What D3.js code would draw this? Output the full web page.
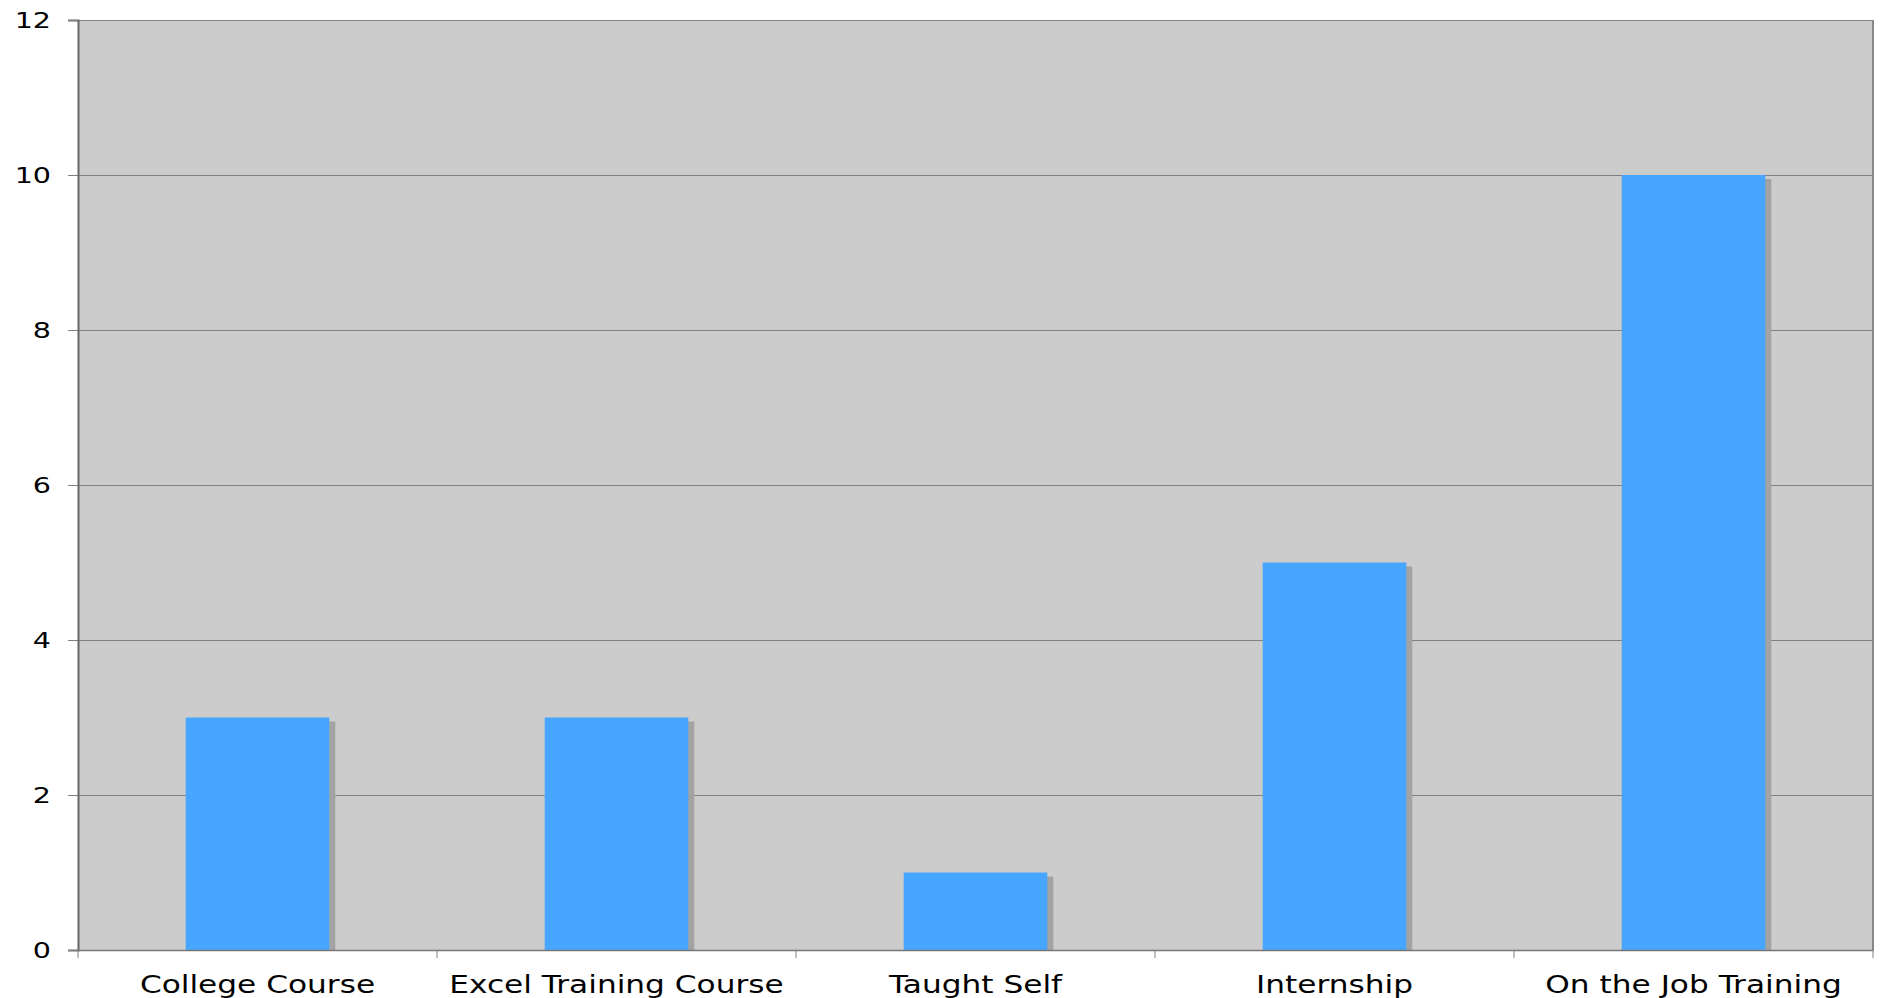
<!DOCTYPE html>
<html>
<head>
<meta charset="utf-8">
<script src="https://cdn.jsdelivr.net/npm/d3@7"></script>
<style>
  body { margin: 0; background: white; }
  text { font-family: "DejaVu Sans", sans-serif; fill: black; }
</style>
</head>
<body>
<svg width="1881" height="998"></svg>
<script>
// chart data
var categories = ["College Course", "Excel Training Course", "Taught Self", "Internship", "On the Job Training"];
var counts = [3, 3, 1, 5, 10];
var yTicks = [0, 2, 4, 6, 8, 10, 12];

var svg = d3.select("svg");
var margin = {top: 20, right: 8, bottom: 48, left: 78};
var W = 1881, H = 998;
var stretch = 1.3; // labels in the original look horizontally stretched

var x = d3.scaleBand().domain(categories).range([margin.left, W - margin.right]).paddingInner(0).paddingOuter(0);
var y = d3.scaleLinear().domain([0, 12]).range([H - margin.bottom, margin.top]);
var barW = x.bandwidth() * 0.4;

// plot background
svg.append("rect")
  .attr("x", margin.left).attr("y", margin.top)
  .attr("width", W - margin.right - margin.left)
  .attr("height", y(0) - margin.top)
  .attr("fill", "#cccccc");

// gridlines
svg.append("g").selectAll("line")
  .data(yTicks.slice(1))
  .enter().append("line")
  .attr("x1", margin.left - 10).attr("x2", W - margin.right)
  .attr("y1", function(d) { return y(d) + 0.5; })
  .attr("y2", function(d) { return y(d) + 0.5; })
  .attr("stroke", "#808080").attr("stroke-width", 1);

// bar shadows
svg.append("g").selectAll("rect")
  .data(counts)
  .enter().append("rect")
  .attr("x", function(d, i) { return x(categories[i]) + (x.bandwidth() - barW) / 2 + 6; })
  .attr("y", function(d) { return y(d) + 4; })
  .attr("width", barW)
  .attr("height", function(d) { return y(0) - y(d) - 4; })
  .attr("fill", "#a3a3a3");

// bars
svg.append("g").selectAll("rect")
  .data(counts)
  .enter().append("rect")
  .attr("x", function(d, i) { return x(categories[i]) + (x.bandwidth() - barW) / 2; })
  .attr("y", function(d) { return y(d); })
  .attr("width", barW)
  .attr("height", function(d) { return y(0) - y(d); })
  .attr("fill", "#47a6ff");

// right border
svg.append("line")
  .attr("x1", W - margin.right).attr("x2", W - margin.right)
  .attr("y1", margin.top).attr("y2", y(0))
  .attr("stroke", "#888888").attr("stroke-width", 2);

// y axis
var yAxis = svg.append("g")
  .attr("transform", "translate(" + margin.left + ",0)")
  .call(d3.axisLeft(y).tickValues(yTicks).tickSize(10));
yAxis.select(".domain").attr("stroke", "#666666").attr("stroke-width", 2);
yAxis.selectAll(".tick line").attr("stroke", "#808080");
yAxis.selectAll("text")
  .style("font-size", "22px")
  .attr("x", -27 / stretch)
  .attr("transform", "scale(" + stretch + ",1)");

// x axis
var xAxis = svg.append("g")
  .attr("transform", "translate(0," + y(0) + ")")
  .call(d3.axisBottom(x).tickSize(0));
xAxis.select(".domain").attr("stroke", "#777777").attr("stroke-width", 1.5);
xAxis.selectAll("text")
  .style("font-size", "24px")
  .attr("y", 43.5).attr("dy", 0)
  .attr("transform", "scale(" + stretch + ",1)");

// category boundary ticks
svg.append("g").selectAll("line")
  .data(d3.range(categories.length + 1))
  .enter().append("line")
  .attr("x1", function(i) { return margin.left + i * x.step(); })
  .attr("x2", function(i) { return margin.left + i * x.step(); })
  .attr("y1", y(0)).attr("y2", y(0) + 8)
  .attr("stroke", "#808080");
</script>
</body>
</html>
